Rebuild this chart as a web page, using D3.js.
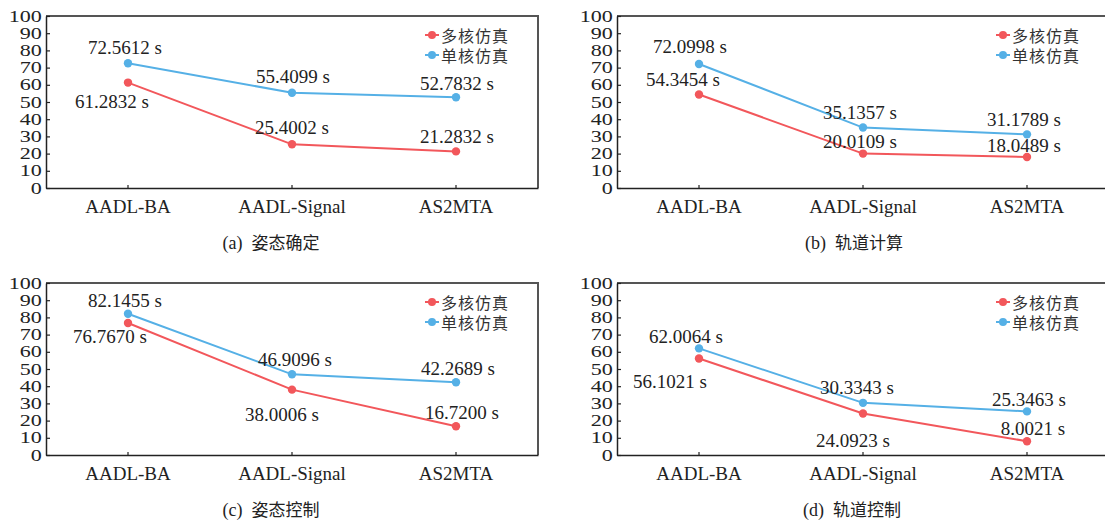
<!DOCTYPE html>
<html>
<head>
<meta charset="utf-8">
<script src="https://cdn.jsdelivr.net/npm/d3@7"></script>
<style>
  body { margin: 0; background: #fff; }
  svg { display: block; }
</style>
</head>
<body>
<div id="chart"></div>
<script>
// data
const categories = ["AADL-BA", "AADL-Signal", "AS2MTA"];
const yTickValues = [0, 10, 20, 30, 40, 50, 60, 70, 80, 90, 100];
const seriesNames = ["多核仿真", "单核仿真"];
const captionTags = ["(a)", "(b)", "(c)", "(d)"];
const captionTitles = ["姿态确定", "轨道计算", "姿态控制", "轨道控制"];

const multiA = [61.2832, 25.4002, 21.2832];
const singleA = [72.5612, 55.4099, 52.7832];
const multiB = [54.3454, 20.0109, 18.0489];
const singleB = [72.0998, 35.1357, 31.1789];
const multiC = [76.767, 38.0006, 16.72];
const singleC = [82.1455, 46.9096, 42.2689];
const multiD = [56.1021, 24.0923, 8.0021];
const singleD = [62.0064, 30.3343, 25.3463];

// label offsets (px) from each point, [dx, dy] of text centre
const labelOffsets = [
  { multi: [[-16, 19], [0, -17], [1, -15]], single: [[-3, -16], [1, -16], [1, -14]] },
  { multi: [[-16, -15], [-3, -12], [-3, -11]], single: [[-9, -17], [-3, -15], [-3, -15]] },
  { multi: [[-18, 14], [-10, 25], [6, -14]], single: [[-3, -13], [3, -15], [2, -14]] },
  { multi: [[-29, 23], [-10, 27], [6, -13]], single: [[-13, -12], [-6, -15], [2, -12]] },
];

const colors = {
  multi: "#f2575b",
  single: "#55b0e6",
  axis: "#222",
  frame: "#555",
  text: "#222",
};

const config = {
  width: 1105,
  height: 524,
  plotWidth: 492,
  plotHeight: 172,
  fontLatin: "'Liberation Serif', 'Times New Roman', serif",
  fontCjk: "'Noto Sans CJK SC', sans-serif",
};

const panels = [
  { left: 46, top: 16, multi: multiA, single: singleA, captionX: 271 },
  { left: 617, top: 16, multi: multiB, single: singleB, captionX: 854 },
  { left: 46, top: 283, multi: multiC, single: singleC, captionX: 271 },
  { left: 617, top: 283, multi: multiD, single: singleD, captionX: 852 },
];

const svg = d3.select("#chart")
  .append("svg")
  .attr("width", config.width)
  .attr("height", config.height);

svg.append("rect")
  .attr("width", config.width)
  .attr("height", config.height)
  .attr("fill", "#fff");

panels.forEach((p, pi) => {
  const g = svg.append("g").attr("transform", `translate(${p.left},${p.top})`);

  const x = d3.scaleBand().domain(categories).range([0, config.plotWidth]);
  const y = d3.scaleLinear().domain([0, 100]).range([config.plotHeight, 0]);
  const cx = (c) => x(c) + x.bandwidth() / 2;

  // frame (top and right)
  g.append("path")
    .attr("d", `M0,0H${config.plotWidth}V${config.plotHeight}`)
    .attr("fill", "none")
    .attr("stroke", colors.frame)
    .attr("stroke-width", 2);

  // y axis
  const yAxis = d3.axisLeft(y)
    .tickValues(yTickValues)
    .tickSize(-4)
    .tickSizeOuter(0)
    .tickPadding(3);
  const yg = g.append("g").attr("class", "yAxis").call(yAxis);
  yg.select(".domain").attr("stroke", colors.axis).attr("stroke-width", 1.5);
  yg.selectAll(".tick line").attr("stroke", colors.axis).attr("stroke-width", 1.2);
  // wide, short digits like the reference
  yg.selectAll(".tick text")
    .attr("transform", "scale(1.38,1)")
    .style("font-family", config.fontLatin)
    .style("font-size", "16px")
    .attr("fill", colors.text);

  // x axis
  const xAxis = d3.axisBottom(x)
    .tickSize(-3)
    .tickSizeOuter(0)
    .tickPadding(12);
  const xg = g.append("g")
    .attr("class", "xAxis")
    .attr("transform", `translate(0,${config.plotHeight})`)
    .call(xAxis);
  xg.select(".domain").attr("stroke", colors.axis).attr("stroke-width", 1.5);
  xg.selectAll(".tick line").attr("stroke", colors.axis).attr("stroke-width", 1.2);
  xg.selectAll(".tick text")
    .style("font-family", config.fontLatin)
    .style("font-size", "19px")
    .attr("fill", colors.text);

  // lines + markers + labels
  const series = [
    { key: "multi", values: p.multi },
    { key: "single", values: p.single },
  ];
  const line = d3.line()
    .x((d, i) => cx(categories[i]))
    .y((d) => y(d));

  series.forEach((s) => {
    g.append("path")
      .datum(s.values)
      .attr("d", line)
      .attr("fill", "none")
      .attr("stroke", colors[s.key])
      .attr("stroke-width", 2);

    g.selectAll(null)
      .data(s.values)
      .enter()
      .append("circle")
      .attr("cx", (d, i) => cx(categories[i]))
      .attr("cy", (d) => y(d))
      .attr("r", 4.2)
      .attr("fill", colors[s.key]);

    g.selectAll(null)
      .data(s.values)
      .enter()
      .append("text")
      .text((d) => `${d.toFixed(4)} s`)
      .attr("x", (d, i) => cx(categories[i]) + labelOffsets[pi][s.key][i][0])
      .attr("y", (d, i) => y(d) + labelOffsets[pi][s.key][i][1])
      .attr("text-anchor", "middle")
      .attr("dominant-baseline", "central")
      .style("font-family", config.fontLatin)
      .style("font-size", "19px")
      .attr("fill", colors.text);
  });

  // legend
  const lg = g.append("g")
    .attr("transform", `translate(${config.plotWidth - 113},19)`);
  series.forEach((s, i) => {
    const row = lg.append("g").attr("transform", `translate(0,${i * 20})`);
    row.append("line")
      .attr("x1", 0).attr("x2", 14)
      .attr("stroke", colors[s.key])
      .attr("stroke-width", 2);
    row.append("circle")
      .attr("cx", 7).attr("r", 4)
      .attr("fill", colors[s.key]);
    row.append("text")
      .text(seriesNames[i])
      .attr("x", 16)
      .attr("dominant-baseline", "central")
      .style("font-family", config.fontCjk)
      .style("font-size", "16px")
      .style("letter-spacing", "1px")
      .attr("fill", "#333");
  });

  // caption
  const cap = svg.append("text")
    .attr("x", p.captionX)
    .attr("y", p.top + 233)
    .attr("text-anchor", "middle")
    .attr("fill", colors.text);
  cap.append("tspan")
    .text(captionTags[pi] + "\u00a0\u00a0")
    .style("font-family", config.fontLatin)
    .style("font-size", "18px");
  cap.append("tspan")
    .text(captionTitles[pi])
    .style("font-family", config.fontCjk)
    .style("font-size", "17px");
});
</script>
</body>
</html>
